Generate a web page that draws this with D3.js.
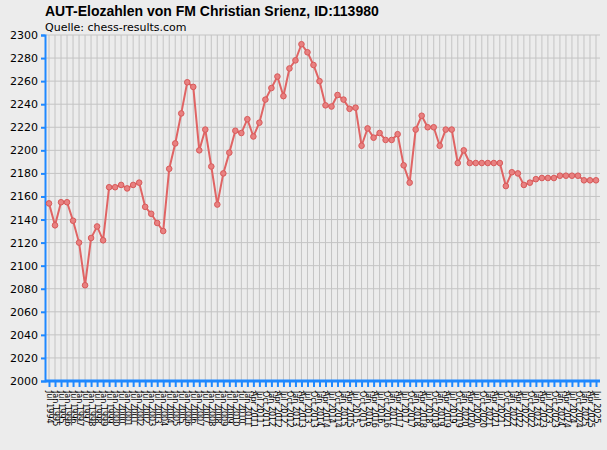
<!DOCTYPE html>
<html><head><meta charset="utf-8">
<script src="https://cdn.jsdelivr.net/npm/d3@7"></script>
<style>body{margin:0;background:#ececec;font-family:"DejaVu Sans",sans-serif}</style>
</head><body><div id="chart"></div>
<script>
const elo = [2154, 2135, 2155, 2155, 2139, 2120, 2083, 2124, 2134, 2122,
  2168, 2168, 2170, 2167, 2170, 2172, 2151, 2145, 2137, 2130,
  2184, 2206, 2232, 2259, 2255, 2200, 2218, 2186, 2153, 2180,
  2198, 2217, 2215, 2227, 2212, 2224, 2244, 2254, 2264, 2247,
  2271, 2278, 2292, 2285, 2274, 2260, 2239, 2238, 2248, 2244,
  2236, 2237, 2204, 2219, 2211, 2215, 2209, 2209, 2214, 2187,
  2172, 2218, 2230, 2220, 2220, 2204, 2218, 2218, 2189, 2200,
  2189, 2189, 2189, 2189, 2189, 2189, 2169, 2181, 2180, 2170,
  2172, 2175, 2176, 2176, 2176, 2178, 2178, 2178, 2178, 2174,
  2174, 2174];
const semiLabels = ["Jul 1994","Jan 1995","Jul 1995","Jan 1996","Jul 1996","Jan 1997","Jul 1997","Jan 1998","Jul 1998","Jan 1999",
  "Jul 1999","Jan 2000","Jul 2000","Jan 2001","Jul 2001","Jan 2002","Jul 2002","Jan 2003","Jul 2003","Jan 2004",
  "Jul 2004","Jan 2005","Jul 2005","Jan 2006","Jul 2006","Jan 2007","Jul 2007","Jan 2008","Jul 2008","Jan 2009",
  "Jul 2009","Jan 2010","Jul 2010","Jan 2011"];
const quarterYears = ["2011","2012","2013","2014","2015","2016","2017","2018","2019","2020","2021","2022","2023","2024","2025"];
const quarterMonths = ["Jan","Apr","Jul","Oct"];
const yTicks = d3.range(2000, 2301, 20);

// quarterly labels Apr 2011 .. Jul 2025
const quarterLabels = [];
quarterYears.forEach(y => quarterMonths.forEach(m => quarterLabels.push(m + " " + y)));
const labels = semiLabels.concat(quarterLabels.slice(1, 1 + elo.length - semiLabels.length));

const width = 607, height = 450;
const m = {left: 45, right: 7, top: 35, bottom: 69};

const svg = d3.select("#chart").append("svg")
  .attr("width", width).attr("height", height);

svg.append("rect").attr("width", width).attr("height", height).attr("fill", "#ececec");

const x = d3.scalePoint().domain(d3.range(elo.length)).range([49, 596]);
const y = d3.scaleLinear().domain([2000, 2300]).range([height - m.bottom, m.top]);

// grid
svg.append("g").selectAll("line").data(yTicks).join("line")
  .attr("x1", m.left).attr("x2", width - m.right)
  .attr("y1", d => y(d)).attr("y2", d => y(d))
  .attr("stroke", "#c4c4c4");
svg.append("g").selectAll("line").data(d3.range(elo.length)).join("line")
  .attr("x1", d => x(d)).attr("x2", d => x(d))
  .attr("y1", m.top).attr("y2", height - m.bottom)
  .attr("stroke", "#c4c4c4");

// y axis
const yAxis = svg.append("g").attr("transform", `translate(${m.left},0)`)
  .call(d3.axisLeft(y).tickValues(yTicks).tickSize(4).tickFormat(d3.format("d")));
yAxis.select(".domain").attr("stroke", "#1e88ff").attr("stroke-width", 2);
yAxis.selectAll(".tick line").attr("stroke", "#1e88ff").attr("stroke-width", 2);
yAxis.selectAll("text").attr("font-size", 11).attr("fill", "#000").attr("font-family", "DejaVu Sans");

// x axis
const xAxis = svg.append("g").attr("transform", `translate(0,${height - m.bottom})`)
  .call(d3.axisBottom(x).tickSize(6).tickFormat(i => labels[i]));
xAxis.select(".domain").attr("d", `M${m.left},0H${width - m.right}`)
  .attr("stroke", "#1e88ff").attr("stroke-width", 3);
xAxis.selectAll(".tick line").attr("stroke", "#1e88ff").attr("stroke-width", 2);
xAxis.selectAll("text")
  .attr("font-size", 8).attr("fill", "#000").attr("font-family", "DejaVu Sans")
  .attr("transform", "rotate(90)").attr("text-anchor", "start")
  .attr("x", 10).attr("y", 0).attr("dy", "0.32em");

// line
svg.append("path").datum(elo)
  .attr("fill", "none").attr("stroke", "#e06464").attr("stroke-width", 2)
  .attr("d", d3.line().x((d, i) => x(i)).y(d => y(d)));
svg.append("g").selectAll("circle").data(elo).join("circle")
  .attr("cx", (d, i) => x(i)).attr("cy", d => y(d)).attr("r", 2.8)
  .attr("fill", "#e88080").attr("stroke", "#d85a5a").attr("stroke-width", 1);

// titles
svg.append("text").attr("x", 45).attr("y", 16)
  .attr("font-size", 14).attr("font-weight", "bold").attr("font-family", "Liberation Sans, Arial")
  .text("AUT-Elozahlen von FM Christian Srienz, ID:113980");
svg.append("text").attr("x", 45).attr("y", 31)
  .attr("font-size", 11).attr("font-family", "DejaVu Sans")
  .text("Quelle: chess-results.com");
</script></body></html>
